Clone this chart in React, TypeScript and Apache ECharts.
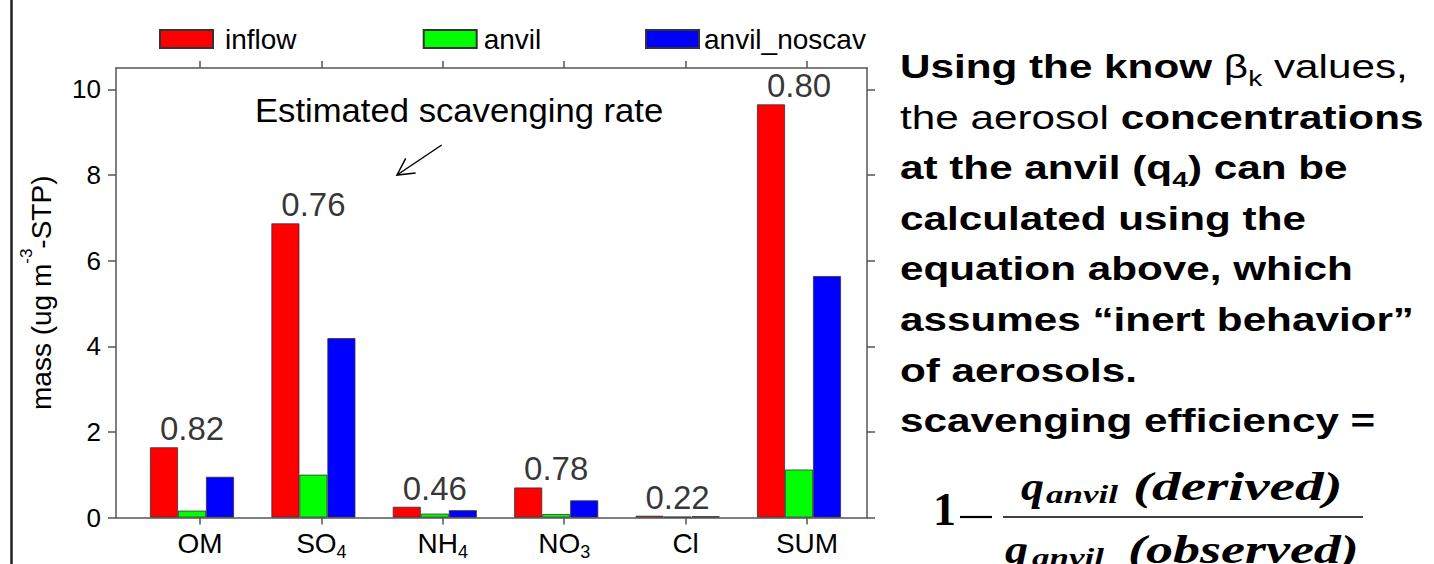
import React, { useEffect, useRef } from 'react';
import * as echarts from 'echarts';

// ---- data ----
const categories = ['OM', 'SO4', 'NH4', 'NO3', 'Cl', 'SUM'];
const inflow = [1.64, 6.87, 0.25, 0.7, 0.04, 9.65];
const anvil = [0.16, 1.0, 0.09, 0.08, 0.02, 1.12];
const anvilNoscav = [0.95, 4.19, 0.17, 0.4, 0.03, 5.64];
const scavengingRates = ['0.82', '0.76', '0.46', '0.78', '0.22', '0.80'];
const yTicks = [0, 2, 4, 6, 8, 10];
const seriesNames = ['inflow', 'anvil', 'anvil_noscav'];
const seriesColors = ['#ff0000', '#00ff00', '#0000ff'];
const seriesValues = [inflow, anvil, anvilNoscav];

const SANS = "'Liberation Sans', Arial, Helvetica, sans-serif";
const SERIF = "'Liberation Serif', 'Times New Roman', serif";
const INK = '#000';
const AXIS = '#555';

const Y_MIN = 0;
const Y_MAX = 10.5;
const Y_INT = 2;

export default function App() {
  const ref = useRef<HTMLDivElement>(null);

  useEffect(() => {
    if (!ref.current) return;
    const chart = echarts.init(ref.current, undefined, { renderer: 'svg' });

    const gridTop = 68;
    const gridHeight = 449.5;

    const hiddenY = (gi: number) => ({
      gridIndex: gi, type: 'value', min: Y_MIN, max: Y_MAX, interval: Y_INT, show: false,
    });

    const frameLine = { show: true, onZero: false, lineStyle: { color: AXIS, width: 1.5 } };

    const bodyRich = {
      b: { fontSize: 33, fontWeight: 'bold', lineHeight: 44, fontFamily: SANS, color: '#000' },
      r: { fontSize: 33, fontWeight: 'normal', lineHeight: 44, fontFamily: SANS, color: '#000' },
      rs: { fontSize: 22, fontWeight: 'normal', lineHeight: 20, verticalAlign: 'bottom', fontFamily: SANS, color: '#000' },
      bs: { fontSize: 22, fontWeight: 'bold', lineHeight: 20, verticalAlign: 'bottom', fontFamily: SANS, color: '#000' },
    };
    const bodyLines = [
      '{b|Using the know }{r|β}{rs|k}{r| values,}',
      '{r|the aerosol }{b|concentrations}',
      '{b|at the anvil (q}{bs|4}{b|) can be}',
      '{b|calculated using the}',
      '{b|equation above, which}',
      '{b|assumes “inert behavior”}',
      '{b|of aerosols.}',
      '{b|scavenging efficiency =}',
    ];

    const serifText = (x: number, y: number, text: string, size: number, scaleX: number, weight = 'bold', style = 'italic') => ({
      type: 'text', x, y, scaleX,
      style: {
        text, fontSize: size, fontFamily: SERIF, fontWeight: weight, fontStyle: style,
        fill: '#000', align: 'left', verticalAlign: 'middle',
      },
    });

    const option: any = {
      animation: false,
      backgroundColor: '#fff',
      legend: seriesNames.map((n, i) => ({
        data: [n],
        left: [159, 422.7, 645][i],
        top: 25,
        padding: 0,
        itemWidth: 53,
        itemHeight: 18,
        icon: 'rect',
        selectedMode: false,
        textStyle: {
          fontSize: 28, color: INK, fontFamily: SANS,
          padding: i === 0 ? [0, 0, 0, 7] : i === 1 ? [0, 0, 0, 2] : 0,
        },
      })),
      grid: [
        { left: 116, top: gridTop, width: 751, height: gridHeight },
        { left: 139.3, top: gridTop, width: 728.4, height: gridHeight },
        { left: 131.3, top: gridTop, width: 728.4, height: gridHeight },
      ],
      xAxis: [
        {
          gridIndex: 0, type: 'value', min: 0, max: 1, position: 'bottom',
          axisLine: frameLine,
          axisTick: { show: false }, axisLabel: { show: false }, splitLine: { show: false },
        },
        {
          gridIndex: 0, type: 'value', min: 0, max: 1, position: 'top',
          axisLine: frameLine,
          axisTick: { show: false }, axisLabel: { show: false }, splitLine: { show: false },
        },
        {
          gridIndex: 1, type: 'category', data: categories, position: 'bottom',
          axisLine: { show: false },
          axisTick: { show: true, alignWithLabel: true, length: 7, lineStyle: { color: AXIS, width: 1.5 } },
          axisLabel: {
            margin: 9,
            color: INK,
            formatter: (v: string) => {
              const m = v.match(/^([A-Za-z]+)(\d)$/);
              return m ? `{n|${m[1]}}{s|${m[2]}}` : `{n|${v}}`;
            },
            rich: {
              n: { fontSize: 28, lineHeight: 34, fontFamily: SANS, color: INK },
              s: { fontSize: 18, lineHeight: 12, verticalAlign: 'bottom', fontFamily: SANS, color: INK },
            },
          },
          splitLine: { show: false },
        },
        {
          gridIndex: 1, type: 'category', data: categories, position: 'top',
          axisLine: { show: false },
          axisTick: { show: true, alignWithLabel: true, length: 7, lineStyle: { color: AXIS, width: 1.5 } },
          axisLabel: { show: false },
        },
        { gridIndex: 2, type: 'category', data: categories, show: false },
      ],
      yAxis: [
        {
          gridIndex: 0, type: 'value', min: Y_MIN, max: Y_MAX, interval: Y_INT, position: 'left',
          axisLine: frameLine,
          axisTick: { show: true, length: 8, customValues: yTicks, lineStyle: { color: AXIS, width: 1.5 } },
          axisLabel: { customValues: yTicks, margin: 15, fontSize: 26, color: INK, fontFamily: SANS },
          splitLine: { show: false },
          name: '{a|mass (ug m}{sup|-3}{a|-STP)}',
          nameLocation: 'middle',
          nameGap: 52,
          nameTextStyle: {
            rich: {
              a: { fontSize: 28, lineHeight: 46, fontFamily: SANS, color: INK },
              sup: { fontSize: 17, lineHeight: 17, verticalAlign: 'top', fontFamily: SANS, color: INK },
            },
          },
        },
        {
          gridIndex: 0, type: 'value', min: Y_MIN, max: Y_MAX, interval: Y_INT, position: 'right',
          axisLine: frameLine,
          axisTick: { show: true, length: 8, customValues: yTicks, lineStyle: { color: AXIS, width: 1.5 } },
          axisLabel: { show: false },
          splitLine: { show: false },
        },
        hiddenY(1),
        hiddenY(2),
      ],
      series: [
        ...seriesNames.map((n, i) => ({
          name: n,
          type: 'bar',
          xAxisIndex: 4,
          yAxisIndex: 3,
          data: seriesValues[i],
          barWidth: 28,
          barGap: '0%',
          itemStyle: { color: seriesColors[i], borderColor: '#333', borderWidth: 0.8 },
        })),
        {
          name: 'rate',
          type: 'scatter',
          xAxisIndex: 4,
          yAxisIndex: 3,
          data: inflow,
          symbol: 'circle',
          symbolSize: 0.1,
          silent: true,
          itemStyle: { color: 'rgba(0,0,0,0)' },
          label: {
            show: true,
            position: 'top',
            distance: 2,
            fontSize: 33,
            color: INK,
            fontFamily: SANS,
            formatter: (p: any) => scavengingRates[p.dataIndex],
          },
        },
      ],
      graphic: [
        // left slide border
        { type: 'line', shape: { x1: 11.5, y1: 0, x2: 11.5, y2: 564 }, style: { stroke: '#222', lineWidth: 2.5 } },
        // annotation
        {
          type: 'text', x: 255, y: 110.6, scaleX: 1.05,
          style: { text: 'Estimated scavenging rate', fontSize: 33, fontFamily: SANS, fill: INK, align: 'left', verticalAlign: 'middle' },
        },
        { type: 'line', shape: { x1: 441.7, y1: 145, x2: 397, y2: 175 }, style: { stroke: INK, lineWidth: 1.5 } },
        {
          type: 'polyline',
          shape: { points: [[415.6, 173.1], [397, 175], [405.7, 158.3]] },
          style: { stroke: INK, lineWidth: 1.5, fill: null },
        },
        // right-hand explanatory text
        ...bodyLines.map((t, i) => ({
          type: 'text', x: 900, y: 66.9 + i * 50.55, scaleX: 1.28,
          style: { text: t, rich: bodyRich, align: 'left', verticalAlign: 'middle', fontFamily: SANS, fontSize: 33 },
        })),
        // formula
        serifText(933, 509.5, '1', 46, 1, 'bold', 'normal'),
        { type: 'line', shape: { x1: 960, y1: 517, x2: 992, y2: 517 }, style: { stroke: '#000', lineWidth: 2.2 } },
        serifText(1021, 486.5, 'q', 40, 1.15),
        serifText(1046, 494.6, 'anvil', 25, 1.4),
        serifText(1133, 486.5, '(derived)', 40, 1.43),
        { type: 'line', shape: { x1: 1003, y1: 517, x2: 1363, y2: 517 }, style: { stroke: '#000', lineWidth: 1.5 } },
        serifText(1005, 549.5, 'q', 40, 1.15),
        serifText(1032, 557.6, 'anvil', 25, 1.4),
        serifText(1128, 549.5, '(observed)', 40, 1.35),
      ],
    };

    chart.setOption(option);
    return () => chart.dispose();
  }, []);

  return (
    <div
      ref={ref}
      style={{ position: 'absolute', left: 0, top: 0, width: 1434, height: 564, background: '#fff', overflow: 'hidden' }}
    />
  );
}
